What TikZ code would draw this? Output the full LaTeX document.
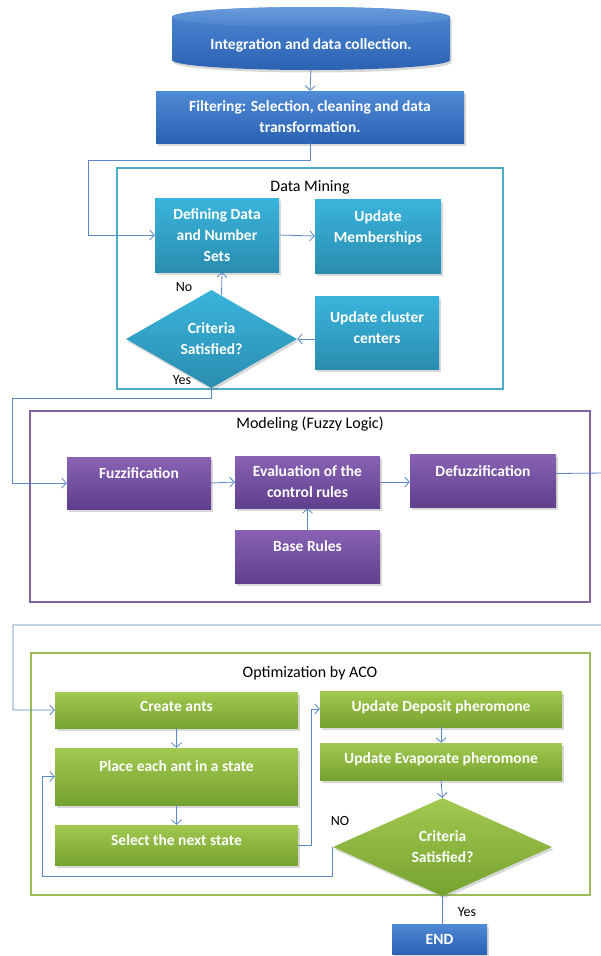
\documentclass[tikz,border=0pt]{standalone}
\usepackage{fontspec}
\setmainfont{Carlito}
\usetikzlibrary{arrows.meta,shapes.geometric,shadows,calc}
\definecolor{lnc}{HTML}{5B87C5}
\definecolor{bluet}{HTML}{4F8AD6}
\definecolor{blueb}{HTML}{2B62B2}
\definecolor{tealt}{HTML}{3AB4DC}
\definecolor{tealb}{HTML}{2A8DB0}
\definecolor{purpt}{HTML}{8962B3}
\definecolor{purpb}{HTML}{5F3F8E}
\definecolor{grnt}{HTML}{A2C950}
\definecolor{grnb}{HTML}{76A22F}
\definecolor{dmframe}{HTML}{4BACC6}
\definecolor{fzframe}{HTML}{8064A2}
\definecolor{acoframe}{HTML}{9BBB59}
\begin{document}
\begin{tikzpicture}[x=1pt,y=1pt]
\tikzset{
  conn/.style={draw=lnc, line width=0.8pt},
  arr/.style={conn, -{Straight Barb[length=4.5pt,width=10pt,line width=0.8pt]}},
  shd/.style={drop shadow={shadow xshift=1.5pt,shadow yshift=-2.5pt,opacity=0.3}},
  boxfont/.style={font=\bfseries\fontsize{15.5}{21}\selectfont},
  basebox/.style={rectangle, inner sep=2pt, align=center, text=white, boxfont, shd},
  bluebox/.style={basebox, top color=bluet, bottom color=blueb},
  tealbox/.style={basebox, top color=tealt, bottom color=tealb},
  purpbox/.style={basebox, top color=purpt, bottom color=purpb},
  grnbox/.style={basebox, top color=grnt, bottom color=grnb},
  raise/.style={text depth=#1},
  frametitle/.style={font=\fontsize{16}{19}\selectfont, text=black},
  lbl/.style={font=\fontsize{14}{16}\selectfont, text=black},
}
\useasboundingbox (0,0) rectangle (601,-956);
\fill[white] (0,0) rectangle (601,-956);

% frames
\draw[dmframe, line width=2.2pt] (117,-168) rectangle (503,-389);
\draw[fzframe, line width=1.8pt] (30,-411) rectangle (590,-602);
\draw[acoframe, line width=2.2pt] (31,-653) rectangle (590,-895);
\node[frametitle] (tdm) at (310,-187) {Data Mining};
\node[frametitle] (tfz) at (310,-424) {Modeling (Fuzzy Logic)};
\node[frametitle] (taco) at (310,-673) {Optimization by ACO};

% cylinder
\path[shd, top color=bluet, bottom color=blueb]
  (172,-17) -- (172,-60) arc[start angle=180, end angle=360, x radius=139, y radius=10]
  -- (450,-17) arc[start angle=0, end angle=180, x radius=139, y radius=10] -- cycle;
\path[top color=bluet!85!white, bottom color=bluet!95!black]
  (311,-17) ellipse[x radius=139, y radius=10];
\node[minimum width=278, minimum height=50, inner sep=0, text=white, boxfont]
  (int) at (311,-45) {Integration and data collection.};

\node[bluebox, minimum width=308, minimum height=52] (filt) at (310,-117)
  {Filtering: Selection, cleaning and data\\transformation.};

% data mining
\node[tealbox, minimum width=124, minimum height=74] (def) at (217,-235)
  {Defining Data\\and Number\\Sets};
\node[tealbox, minimum width=126, minimum height=74, raise=19pt] (memb) at (378,-236)
  {Update\\Memberships};
\node[tealbox, minimum width=124, minimum height=73, raise=10pt] (clust) at (377,-332.5)
  {Update cluster\\centers};
\node[diamond, shape aspect=1.745, minimum width=171, minimum height=98, inner sep=0,
  top color=tealt, bottom color=tealb, shd, text=white, align=center, boxfont]
  (dmd) at (211.5,-339) {Criteria\\Satisfied?};

% fuzzy
\node[purpbox, minimum width=144, minimum height=52, raise=19pt] (fuzz) at (139,-483) {Fuzzification};
\node[purpbox, minimum width=145, minimum height=52] (eval) at (307.5,-482)
  {Evaluation of the\\control rules};
\node[purpbox, minimum width=146, minimum height=53, raise=19pt] (defz) at (483,-480.5) {Defuzzification};
\node[purpbox, minimum width=145, minimum height=53, raise=21pt] (base) at (307.5,-556.5) {Base Rules};

% ACO
\node[grnbox, minimum width=243, minimum height=36, raise=7pt] (create) at (176.5,-710) {Create ants};
\node[grnbox, minimum width=243, minimum height=57, raise=20pt] (place) at (176.5,-776.5) {Place each ant in a state};
\node[grnbox, minimum width=243, minimum height=40, raise=9pt] (select) at (176.5,-845) {Select the next state};
\node[grnbox, minimum width=242, minimum height=36, raise=6pt] (dep) at (441,-709) {Update Deposit pheromone};
\node[grnbox, minimum width=242, minimum height=37, raise=6pt] (evap) at (441,-761.5) {Update Evaporate pheromone};
\node[diamond, shape aspect=2.2, minimum width=219, minimum height=98, inner sep=0,
  top color=grnt, bottom color=grnb, shd, text=white, align=center, boxfont]
  (acod) at (442.5,-847) {Criteria\\Satisfied?};
\node[bluebox, minimum width=95, minimum height=30] (endn) at (439.5,-939) {END};

% labels
\node[lbl] (lno) at (184,-287) {No};
\node[lbl] (lyes) at (182,-380) {Yes};
\node[lbl] (lno2) at (340,-821) {NO};
\node[lbl] (lyes2) at (467,-912) {Yes};

% helper coordinates
\coordinate (c1) at (88,-160);
\coordinate (c2) at (12,-398);
\coordinate (c3a) at (605,-473);
\coordinate (c3b) at (605,-625);
\coordinate (c3c) at (13,-625);
\coordinate (c4) at (311,-845);
\coordinate (c5) at (42,-876);

% connectors
\draw[arr] (int.south) -- (filt.north);
\draw[arr] (filt.south) |- (c1) |- (def.west);
\draw[arr] (def.east) -- (memb.west);
\draw[arr] (clust.west |- dmd.east) -- (dmd.east);
\draw[arr] ([xshift=10pt,yshift=-5pt]dmd.north) -- ([xshift=5pt]def.south);
\draw[arr] (dmd.south) |- (c2) |- (fuzz.west);
\draw[arr] (fuzz.east) -- (eval.west);
\draw[arr] (eval.east) -- (eval.east -| defz.west);
\draw[arr] (base.north) -- (eval.south);
\draw[arr] ([yshift=7pt]defz.east) -- (c3a) -- (c3b) -- (c3c) |- (create.west);
\draw[arr] (create.south) -- (place.north);
\draw[arr] (place.south) -- (select.north);
\draw[arr] (select.east) -- (c4) |- (dep.west);
\draw[arr] (dep.south) -- (evap.north);
\draw[arr] (evap.south) -- (acod.north);
\draw[arr] (acod.west) |- (c5) |- (place.west);
\draw[conn] (acod.south) -- (acod.south |- endn.north);
\end{tikzpicture}
\end{document}
